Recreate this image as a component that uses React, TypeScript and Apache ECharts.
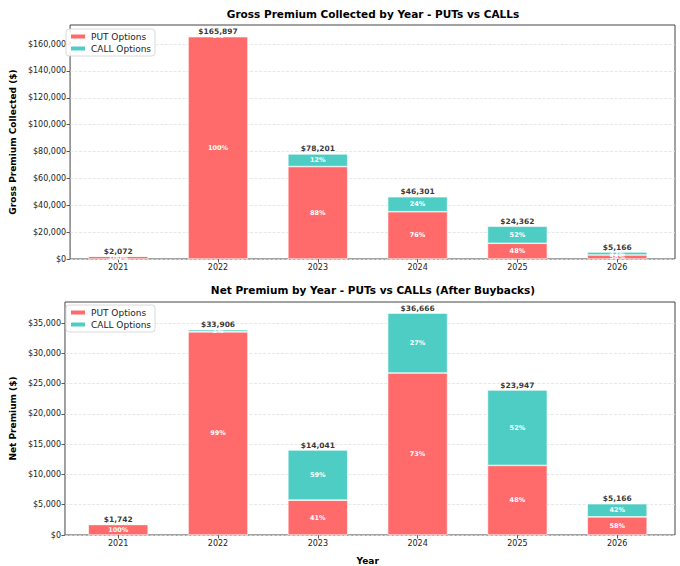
import React, { useEffect, useRef } from "react";
import * as echarts from "echarts";

const years = ["2021", "2022", "2023", "2024", "2025", "2026"];
const grossPut = [2072, 165500, 68817, 35189, 11694, 2996];
const grossCall = [0, 397, 9384, 11112, 12668, 2170];
const netPut = [1742, 33567, 5757, 26766, 11495, 2996];
const netCall = [0, 339, 8284, 9900, 12452, 2170];
const grossTicks = [0, 20000, 40000, 60000, 80000, 100000, 120000, 140000, 160000];
const netTicks = [0, 5000, 10000, 15000, 20000, 25000, 30000, 35000];

const PUT_COLOR = "#FF6B6B";
const CALL_COLOR = "#4ECDC4";
const FONT = "DejaVu Sans";

const money = (v: number) => "$" + Math.round(v).toLocaleString("en-US");

export default function App() {
  const ref = useRef<HTMLDivElement>(null);
  useEffect(() => {
    if (!ref.current) return;
    const chart = echarts.init(ref.current, null, { renderer: "svg" });
    const grossTot = grossPut.map((p, i) => p + grossCall[i]);
    const netTot = netPut.map((p, i) => p + netCall[i]);
    const gMax = Math.max(...grossTot) * 1.05;
    const nMax = Math.max(...netTot) * 1.05;

    const hiddenX = (gridIndex: number) => ({
      type: "value",
      gridIndex,
      min: 0,
      max: 1,
      show: false,
      axisLine: { onZero: false },
    });

    const catX = (gridIndex: number, withName: boolean) => ({
      type: "category",
      gridIndex,
      data: years,
      boundaryGap: true,
      name: withName ? "Year" : "",
      nameLocation: "middle",
      nameGap: 21,
      nameTextStyle: { fontFamily: FONT, fontWeight: "bold", fontSize: 9, color: "#000" },
      axisLine: { show: false, onZero: false },
      splitLine: { show: false },
      axisTick: { show: true, alignWithLabel: true, length: 3.5, lineStyle: { color: "#333", width: 0.8 } },
      axisLabel: { fontFamily: FONT, fontSize: 8, color: "#222", margin: 4, interval: 0 },
    });

    const frameY = (gridIndex: number, name: string, max: number, ticks: number[], gap: number) => ({
      type: "value",
      gridIndex,
      min: 0,
      max,
      name,
      nameLocation: "middle",
      nameGap: gap,
      nameTextStyle: { fontFamily: FONT, fontWeight: "bold", fontSize: 9, color: "#000" },
      axisLine: { show: false, onZero: false },
      axisTick: { show: true, customValues: ticks, length: 3.5, lineStyle: { color: "#333", width: 0.8 } },
      axisLabel: {
        customValues: ticks,
        formatter: (v: number) => money(v),
        fontFamily: FONT,
        fontSize: 8,
        color: "#222",
        margin: 4,
      },
      splitLine: { show: true, lineStyle: { color: "#e2e2e2", type: [3, 1.5], width: 0.8 } },
    });

    const dataY = (gridIndex: number, max: number) => ({
      type: "value",
      gridIndex,
      min: 0,
      max,
      show: false,
      axisLine: { onZero: false },
      splitLine: { show: false },
    });

    const pctLabel = (vals: number[], tots: number[]) => ({
      show: true,
      position: "inside",
      fontFamily: FONT,
      fontSize: 6.5,
      fontWeight: "bold",
      color: "#fff",
      formatter: (p: any) => {
        const i = p.dataIndex;
        if (!vals[i]) return "";
        return Math.round((vals[i] / tots[i]) * 100) + "%";
      },
    });

    const barSeries = (name: string, vals: number[], tots: number[], color: string, idx: number, stack: string) => ({
      type: "bar",
      name,
      xAxisIndex: idx,
      yAxisIndex: idx,
      stack,
      barWidth: "60%",
      data: vals,
      itemStyle: { color, borderColor: "#fff", borderWidth: 0.6 },
      label: pctLabel(vals, tots),
    });

    const totalSeries = (tots: number[], idx: number) => ({
      type: "scatter",
      xAxisIndex: idx,
      yAxisIndex: idx,
      symbolSize: 0,
      silent: true,
      data: tots,
      label: {
        show: true,
        position: "top",
        distance: 1,
        fontFamily: FONT,
        fontSize: 7.5,
        fontWeight: "bold",
        color: "#000",
        formatter: (p: any) => money(tots[p.dataIndex]),
      },
    });

    const legendBase = (top: number) => ({
      left: 66,
      top,
      orient: "vertical",
      data: ["PUT Options", "CALL Options"],
      icon: "rect",
      itemWidth: 16,
      itemHeight: 6,
      itemGap: 3,
      padding: [3, 4, 3, 3],
      backgroundColor: "rgba(255,255,255,0.85)",
      borderColor: "#d0d0d0",
      borderWidth: 0.8,
      borderRadius: 3,
      textStyle: { fontFamily: FONT, fontSize: 9, color: "#222", padding: [0, 0, 0, 0] },
    });

    chart.setOption({
      animation: false,
      backgroundColor: "#fff",
      title: [
        {
          text: "Gross Premium Collected by Year - PUTs vs CALLs",
          left: 368,
          textAlign: "center",
          top: 3,
          textStyle: { fontFamily: FONT, fontWeight: "bold", fontSize: 10.5, color: "#000" },
        },
        {
          text: "Net Premium by Year - PUTs vs CALLs (After Buybacks)",
          left: 368,
          textAlign: "center",
          top: 279,
          textStyle: { fontFamily: FONT, fontWeight: "bold", fontSize: 10.5, color: "#000" },
        },
      ],
      legend: [legendBase(29), legendBase(305)],
      grid: [
        { left: 61, top: 25, width: 614, height: 234, show: true, borderColor: "#444", borderWidth: 1, backgroundColor: "transparent" },
        { left: 68.3, top: 25, width: 598.8, height: 234 },
        { left: 61, top: 302, width: 614, height: 233, show: true, borderColor: "#444", borderWidth: 1, backgroundColor: "transparent" },
        { left: 68.3, top: 302, width: 598.8, height: 233 },
      ],
      xAxis: [hiddenX(0), catX(1, false), hiddenX(2), catX(3, true)],
      yAxis: [
        frameY(0, "Gross Premium Collected ($)", gMax, grossTicks, 48),
        dataY(1, gMax),
        frameY(2, "Net Premium ($)", nMax, netTicks, 42),
        dataY(3, nMax),
      ],
      series: [
        barSeries("PUT Options", grossPut, grossTot, PUT_COLOR, 1, "g"),
        barSeries("CALL Options", grossCall, grossTot, CALL_COLOR, 1, "g"),
        totalSeries(grossTot, 1),
        barSeries("PUT Options", netPut, netTot, PUT_COLOR, 3, "n"),
        barSeries("CALL Options", netCall, netTot, CALL_COLOR, 3, "n"),
        totalSeries(netTot, 3),
      ],
    });
    return () => chart.dispose();
  }, []);
  return (
    <div
      ref={ref}
      style={{ position: "absolute", left: 0, top: 0, width: 680, height: 566 }}
    />
  );
}
